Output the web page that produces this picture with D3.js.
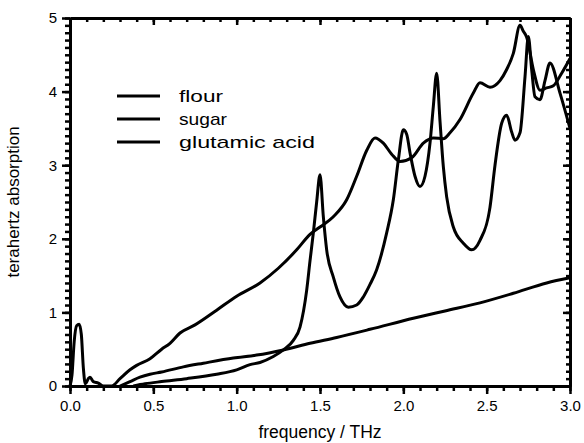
<!DOCTYPE html>
<html>
<head>
<meta charset="utf-8">
<script src="https://cdn.jsdelivr.net/npm/d3@7"></script>
<style>
  body { margin: 0; background: #fff; }
  text { font-family: "Liberation Sans", Arial, sans-serif; fill: #000; }
  .axis path { stroke: #000; stroke-width: 3; }
  .axis line { stroke: #000; stroke-width: 2.5; }
  .axis text { font-size: 15px; }
  .dataLine { fill: none; stroke: #000; stroke-width: 3; stroke-linejoin: round; }
</style>
</head>
<body>
<div id="vis"></div>
<script>
// series: [frequency THz, absorption]
var glutamicData = [
  [0,0],[0.012,0.15],[0.025,0.6],[0.04,0.82],[0.055,0.84],[0.068,0.7],[0.08,0.25],[0.092,0.03],[0.11,0.1],
  [0.12,0.12],[0.14,0.06],[0.17,0.04],[0.2,0.0],[0.25,0.0],[0.3,0.1],[0.36,0.22],[0.4,0.28],
  [0.48,0.37],[0.55,0.5],[0.6,0.58],[0.66,0.72],[0.75,0.83],[0.88,1.03],[1.0,1.22],[1.14,1.4],
  [1.25,1.6],[1.36,1.85],[1.44,2.06],[1.5,2.16],[1.58,2.3],[1.66,2.53],[1.72,2.85],[1.78,3.2],
  [1.83,3.37],[1.88,3.3],[1.93,3.15],[1.98,3.05],[2.05,3.1],[2.12,3.3],[2.18,3.37],[2.24,3.36],
  [2.28,3.44],[2.34,3.62],[2.42,3.98],[2.46,4.12],[2.52,4.06],[2.58,4.15],[2.62,4.3],[2.66,4.52],
  [2.7,4.9],[2.72,4.82],[2.74,4.74],[2.78,4.3],[2.82,4.02],[2.86,4.05],[2.9,4.08],[2.95,4.25],[3.0,4.45]
];
var sugarData = [
  [0.38,0],[0.45,0.03],[0.55,0.06],[0.7,0.1],[0.88,0.16],[1.0,0.22],[1.08,0.29],[1.14,0.32],
  [1.22,0.4],[1.28,0.49],[1.34,0.62],[1.38,0.8],[1.42,1.3],[1.44,1.7],[1.46,2.08],[1.48,2.5],
  [1.5,2.87],[1.52,2.3],[1.54,1.85],[1.58,1.48],[1.62,1.21],[1.67,1.07],[1.72,1.1],[1.76,1.21],
  [1.8,1.38],[1.84,1.58],[1.9,2.08],[1.94,2.53],[1.97,3.07],[2.0,3.48],[2.02,3.42],[2.04,3.17],
  [2.07,2.85],[2.1,2.71],[2.13,2.85],[2.16,3.3],[2.18,3.8],[2.2,4.25],[2.22,3.6],[2.24,2.98],
  [2.26,2.57],[2.3,2.16],[2.36,1.94],[2.41,1.85],[2.46,1.98],[2.52,2.43],[2.55,3.0],[2.59,3.57],
  [2.62,3.68],[2.65,3.45],[2.67,3.34],[2.7,3.44],[2.73,4.2],[2.75,4.75],[2.77,4.3],[2.79,3.93],
  [2.82,3.89],[2.85,4.15],[2.88,4.39],[2.94,3.98],[3.0,3.5]
];
var flourData = [
  [0.3,0],[0.36,0.06],[0.42,0.12],[0.48,0.16],[0.55,0.19],[0.68,0.26],[0.8,0.31],[0.98,0.38],
  [1.12,0.42],[1.28,0.49],[1.44,0.58],[1.6,0.66],[1.8,0.77],[2.06,0.92],[2.25,1.02],[2.46,1.13],
  [2.66,1.26],[2.86,1.4],[3.0,1.47]
];
var legendLabels = ['flour', 'sugar', 'glutamic acid'];
var xTicks = [0, 0.5, 1, 1.5, 2, 2.5, 3];
var yTicks = [0, 1, 2, 3, 4, 5];

var width = 584, height = 443;
var margin = { top: 18, right: 14, bottom: 57, left: 70 };
var w = width - margin.left - margin.right;
var h = height - margin.top - margin.bottom;

var svg = d3.select('#vis').append('svg')
  .attr('width', width)
  .attr('height', height);

var g = svg.append('g')
  .attr('transform', 'translate(' + margin.left + ',' + margin.top + ')');

var xScale = d3.scaleLinear().domain([0, 3]).range([0, w]);
var yScale = d3.scaleLinear().domain([0, 5]).range([h, 0]);

var xMinor = d3.range(0, 31).map(function(i){ return i / 10; });
var yMinor = d3.range(0, 51).map(function(i){ return i / 10; });

// minor ticks first, then major ticks with labels
g.append('g').attr('class', 'axis')
  .attr('transform', 'translate(0,' + h + ')')
  .call(d3.axisBottom(xScale).tickValues(xMinor).tickSize(5).tickSizeOuter(0).tickFormat(''));
g.append('g').attr('class', 'axis')
  .attr('transform', 'translate(0,' + h + ')')
  .call(d3.axisBottom(xScale).tickValues(xTicks).tickSize(8).tickSizeOuter(0).tickPadding(6)
    .tickFormat(d3.format('.1f')));

g.append('g').attr('class', 'axis')
  .call(d3.axisLeft(yScale).tickValues(yMinor).tickSize(5).tickSizeOuter(0).tickFormat(''));
g.append('g').attr('class', 'axis')
  .call(d3.axisLeft(yScale).tickValues(yTicks).tickSize(8).tickSizeOuter(0).tickPadding(5)
    .tickFormat(d3.format('d')));

// mirrored ticks on top and right point inwards
g.append('g').attr('class', 'axis')
  .call(d3.axisTop(xScale).tickValues(xMinor).tickSize(-4).tickSizeOuter(0).tickFormat(''));
g.append('g').attr('class', 'axis')
  .call(d3.axisTop(xScale).tickValues(xTicks).tickSize(-7).tickSizeOuter(0).tickFormat(''));
g.append('g').attr('class', 'axis')
  .attr('transform', 'translate(' + w + ',0)')
  .call(d3.axisRight(yScale).tickValues(yMinor).tickSize(-4).tickSizeOuter(0).tickFormat(''));
g.append('g').attr('class', 'axis')
  .attr('transform', 'translate(' + w + ',0)')
  .call(d3.axisRight(yScale).tickValues(yTicks).tickSize(-7).tickSizeOuter(0).tickFormat(''));

var line = d3.line()
  .x(function(d){ return xScale(d[0]); })
  .y(function(d){ return yScale(d[1]); })
  .curve(d3.curveMonotoneX);

[flourData, sugarData, glutamicData].forEach(function(s){
  g.append('path').attr('class', 'dataLine').attr('d', line(s));
});

// legend
var legendWidths = [44, 48, 136];
var legend = g.append('g').attr('transform', 'translate(47,78)');
legendLabels.forEach(function(lab, i){
  legend.append('line')
    .attr('x1', 0).attr('x2', 43)
    .attr('y1', i * 23).attr('y2', i * 23)
    .attr('stroke', '#000').attr('stroke-width', 3);
  legend.append('text')
    .attr('x', 62).attr('y', i * 23 + 6)
    .attr('textLength', legendWidths[i])
    .attr('lengthAdjust', 'spacingAndGlyphs')
    .style('font-size', '17px')
    .text(lab);
});

// axis titles
svg.append('text')
  .attr('x', margin.left + w / 2)
  .attr('y', height - 5)
  .attr('text-anchor', 'middle')
  .style('font-size', '17.5px')
  .text('frequency / THz');

svg.append('text')
  .attr('transform', 'rotate(-90)')
  .attr('x', -(margin.top + h / 2))
  .attr('y', 19)
  .attr('text-anchor', 'middle')
  .style('font-size', '17px')
  .text('terahertz absorption');
</script>
</body>
</html>
